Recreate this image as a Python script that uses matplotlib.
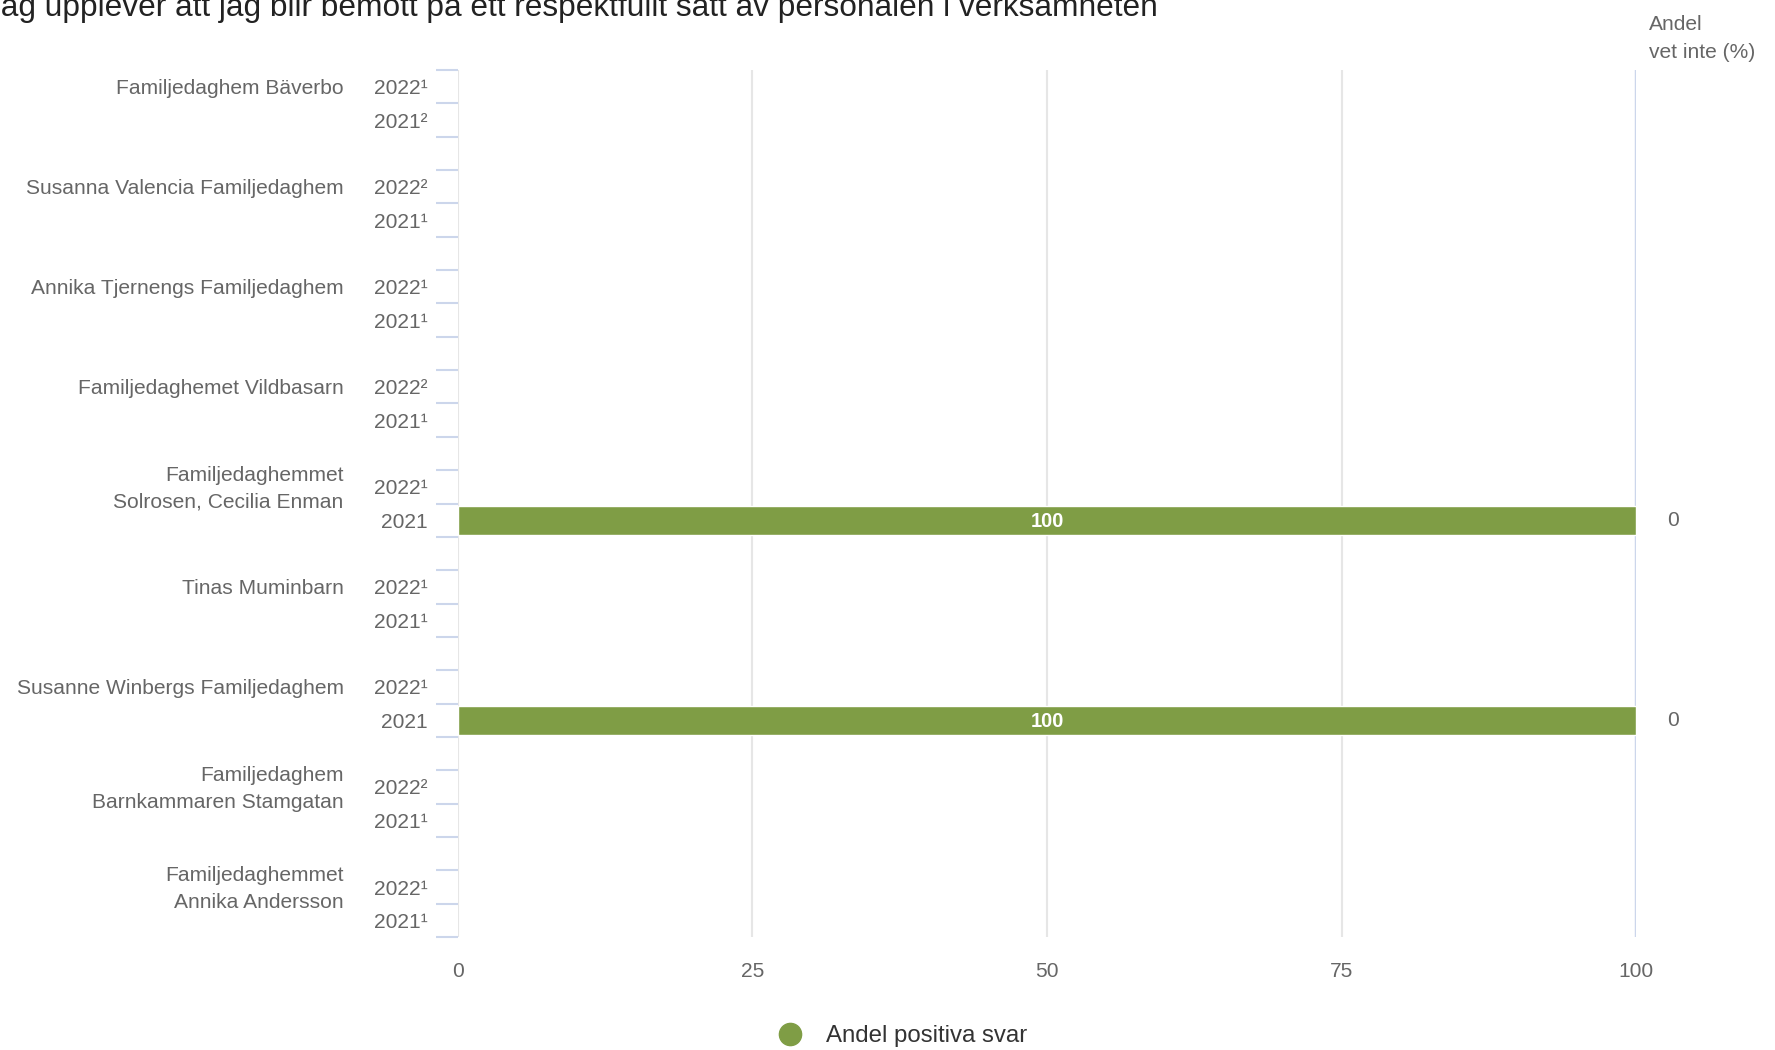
import matplotlib
matplotlib.use("Agg")
import matplotlib.pyplot as plt
from matplotlib.lines import Line2D
import numpy as np

plt.rcParams['font.family'] = ['Liberation Sans', 'DejaVu Sans']

title = "Jag upplever att jag blir bemött på ett respektfullt sätt av personalen i verksamheten"

groups = ["Familjedaghem Bäverbo", "Susanna Valencia Familjedaghem",
          "Annika Tjernengs Familjedaghem", "Familjedaghemet Vildbasarn",
          "Familjedaghemmet\nSolrosen, Cecilia Enman", "Tinas Muminbarn",
          "Susanne Winbergs Familjedaghem", "Familjedaghem\nBarnkammaren Stamgatan",
          "Familjedaghemmet\nAnnika Andersson"]
years = [["2022¹", "2021²"], ["2022²", "2021¹"], ["2022¹", "2021¹"],
         ["2022²", "2021¹"], ["2022¹", "2021"], ["2022¹", "2021¹"],
         ["2022¹", "2021"], ["2022²", "2021¹"], ["2022¹", "2021¹"]]
# andel positiva svar (None = inget värde)
positive = [[None, None], [None, None], [None, None], [None, None],
            [None, 100], [None, None], [None, 100], [None, None], [None, None]]
dont_know = [[None, None], [None, None], [None, None], [None, None],
             [None, 0], [None, None], [None, 0], [None, None], [None, None]]

green = '#7f9d45'
grey_txt = '#666666'
axis_blue = '#ccd6eb'

fig = plt.figure(figsize=(17.75, 10.5), dpi=100)
ax = fig.add_axes([0.258, 0.1076, 0.6637, 0.8257])

n_rows = len(groups) * 3 - 1
ax.set_ylim(n_rows - 0.5, -0.5)
ax.set_xlim(0, 100)

fs = 15.1
for i, g in enumerate(groups):
    for j in range(2):
        row = 3 * i + j
        ax.text(-2.6, row + 0.06, years[i][j], ha='right', va='center',
                fontsize=fs, color=grey_txt)
        v = positive[i][j]
        if v is not None:
            ax.barh(row, v, height=0.86, color=green, edgecolor='white',
                    linewidth=1, zorder=3)
            ax.text(v / 2, row + 0.03, str(v), ha='center', va='center',
                    fontsize=14.5, color='white', fontweight='bold', zorder=4)
        d = dont_know[i][j]
        if d is not None:
            ax.text(103.1, row, str(d), ha='center', va='center',
                    fontsize=fs, color=grey_txt)
    ax.text(-9.7, 3 * i + 0.06, g, ha='right', va='center', fontsize=fs,
            color=grey_txt, linespacing=1.5)

ax.text(101.1, -0.75, "Andel\nvet inte (%)", ha='left', va='bottom',
        fontsize=fs, color=grey_txt, linespacing=1.6)

# axes styling
for s in ax.spines.values():
    s.set_visible(False)
ax.set_xticks([0, 25, 50, 75, 100])
ax.set_xticklabels(['0', '25', '50', '75', '100'], fontsize=fs, color=grey_txt)
ax.tick_params(axis='x', length=0, pad=18)
ax.set_yticks([])
ax.set_yticks(np.arange(-0.5, n_rows, 1), minor=True)
ax.tick_params(axis='y', which='minor', length=16, width=1.5, color=axis_blue)
ax.tick_params(axis='y', which='major', length=0)
for x in [0, 25, 50, 75]:
    ax.axvline(x, color='#e6e6e6', lw=1.5, zorder=1)
ax.axvline(100, color=axis_blue, lw=2.5, zorder=1)

fig.text(-0.0082, 1 - 16 / 1050, title, ha='left', va='baseline',
         fontsize=22.8, color='#222222')

handle = Line2D([], [], marker='o', color=green, linestyle='None', markersize=16)
fig.legend(handles=[handle], labels=["Andel positiva svar"], loc='center',
           bbox_to_anchor=(0.505, 0.013), frameon=False, fontsize=17.3,
           handletextpad=0.5, labelcolor='#333333')

fig.savefig('out.png', dpi=100)
